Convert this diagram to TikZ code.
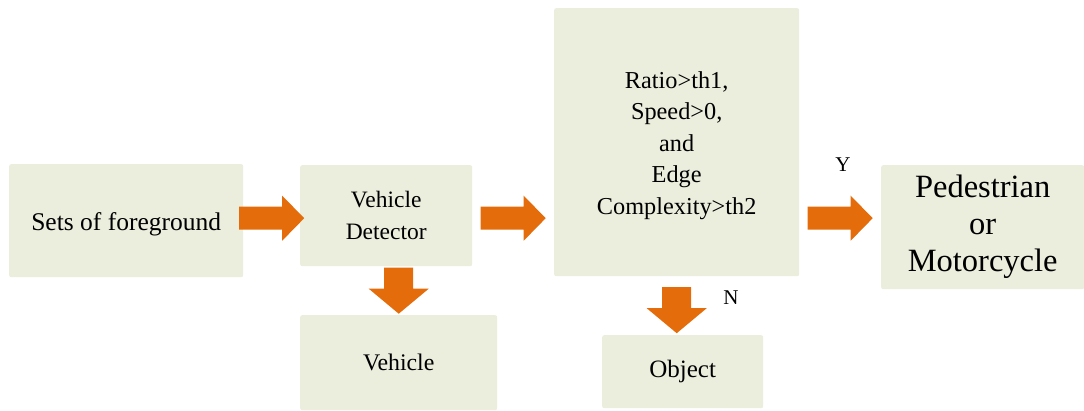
\documentclass[tikz,border=0pt]{standalone}
\usepackage{fontspec}
\setmainfont{Liberation Serif}
\usetikzlibrary{calc}
\definecolor{boxfill}{HTML}{EBEEDD}
\definecolor{flow}{HTML}{E46C0A}
\tikzset{
  stage/.style={fill=boxfill, rounded corners=2pt, inner sep=0pt, align=center,
    anchor=north west},
  % wide block arrow pointing right, centred on the pic origin
  rightflow/.pic={\fill[flow] (-32.5,-11.5) -- (10.5,-11.5) -- (10.5,-22.5) -- (32.5,0)
      -- (10.5,22.5) -- (10.5,11.5) -- (-32.5,11.5) -- cycle;},
  % short block arrow pointing down, centred on the pic origin
  downflow/.pic={\fill[flow] (-14.5,23) -- (-14.5,2) -- (-30,2) -- (0,-23) -- (30,2)
      -- (14.5,2) -- (14.5,23) -- cycle;},
  tag/.style={inner sep=0pt, font=\fontsize{21}{21}\selectfont}
}
\begin{document}
\begin{tikzpicture}[x=1pt, y=1pt]
  \useasboundingbox (0,0) rectangle (1084,-410);

  % processing stages
  \node[stage, minimum width=234pt, minimum height=113pt,
        font=\fontsize{25.5}{32}\selectfont] (fg) at (9,-164)
        {\rule{0pt}{26pt}Sets of foreground};
  \node[stage, minimum width=172pt, minimum height=101pt,
        font=\fontsize{23.5}{32}\selectfont] (det) at (300,-165) {Vehicle\\Detector};
  \node[stage, minimum width=245pt, minimum height=268pt,
        font=\fontsize{24.3}{31.5}\selectfont] (test) at (554,-8)
        {\rule{0pt}{23pt}Ratio>th1,\\Speed>0,\\and\\Edge\\Complexity>th2};
  \node[stage, minimum width=203pt, minimum height=124pt,
        font=\fontsize{32.5}{37}\selectfont] (ped) at (881,-165)
        {Pedestrian\\or\\Motorcycle};
  \node[stage, minimum width=197pt, minimum height=95pt,
        font=\fontsize{23.8}{30}\selectfont] (veh) at (300,-315) {Vehicle};
  \node[stage, minimum width=161pt, minimum height=73pt,
        font=\fontsize{25}{30}\selectfont] (obj) at (602,-335) {Object};

  % gap midpoints between neighbouring stages
  \coordinate (g1) at ($(fg.east)!0.5!(det.west)$);
  \coordinate (g2) at ($(det.east)!0.5!(test.west)$);
  \coordinate (g3) at ($(test.east)!0.5!(ped.west) + (0,-1)$);
  \coordinate (g4) at ($(det.south)!0.5!(veh.north)$);
  \coordinate (g5) at ($(test.south)!0.5!(obj.north) + (0,-4.5)$);

  % flow arrows between stages, the right-pointing ones on one line
  \pic at (g1) {rightflow};
  \pic at (g2 |- g1) {rightflow};
  \pic at (g3 |- g1) {rightflow};
  \pic at (veh.north |- g4) {downflow};
  \pic at (test.south |- g5) {downflow};

  % decision labels
  \node[tag] (yes) at (843,-165) {Y};
  \node[tag] (no) at (731,-298) {N};
\end{tikzpicture}
\end{document}
